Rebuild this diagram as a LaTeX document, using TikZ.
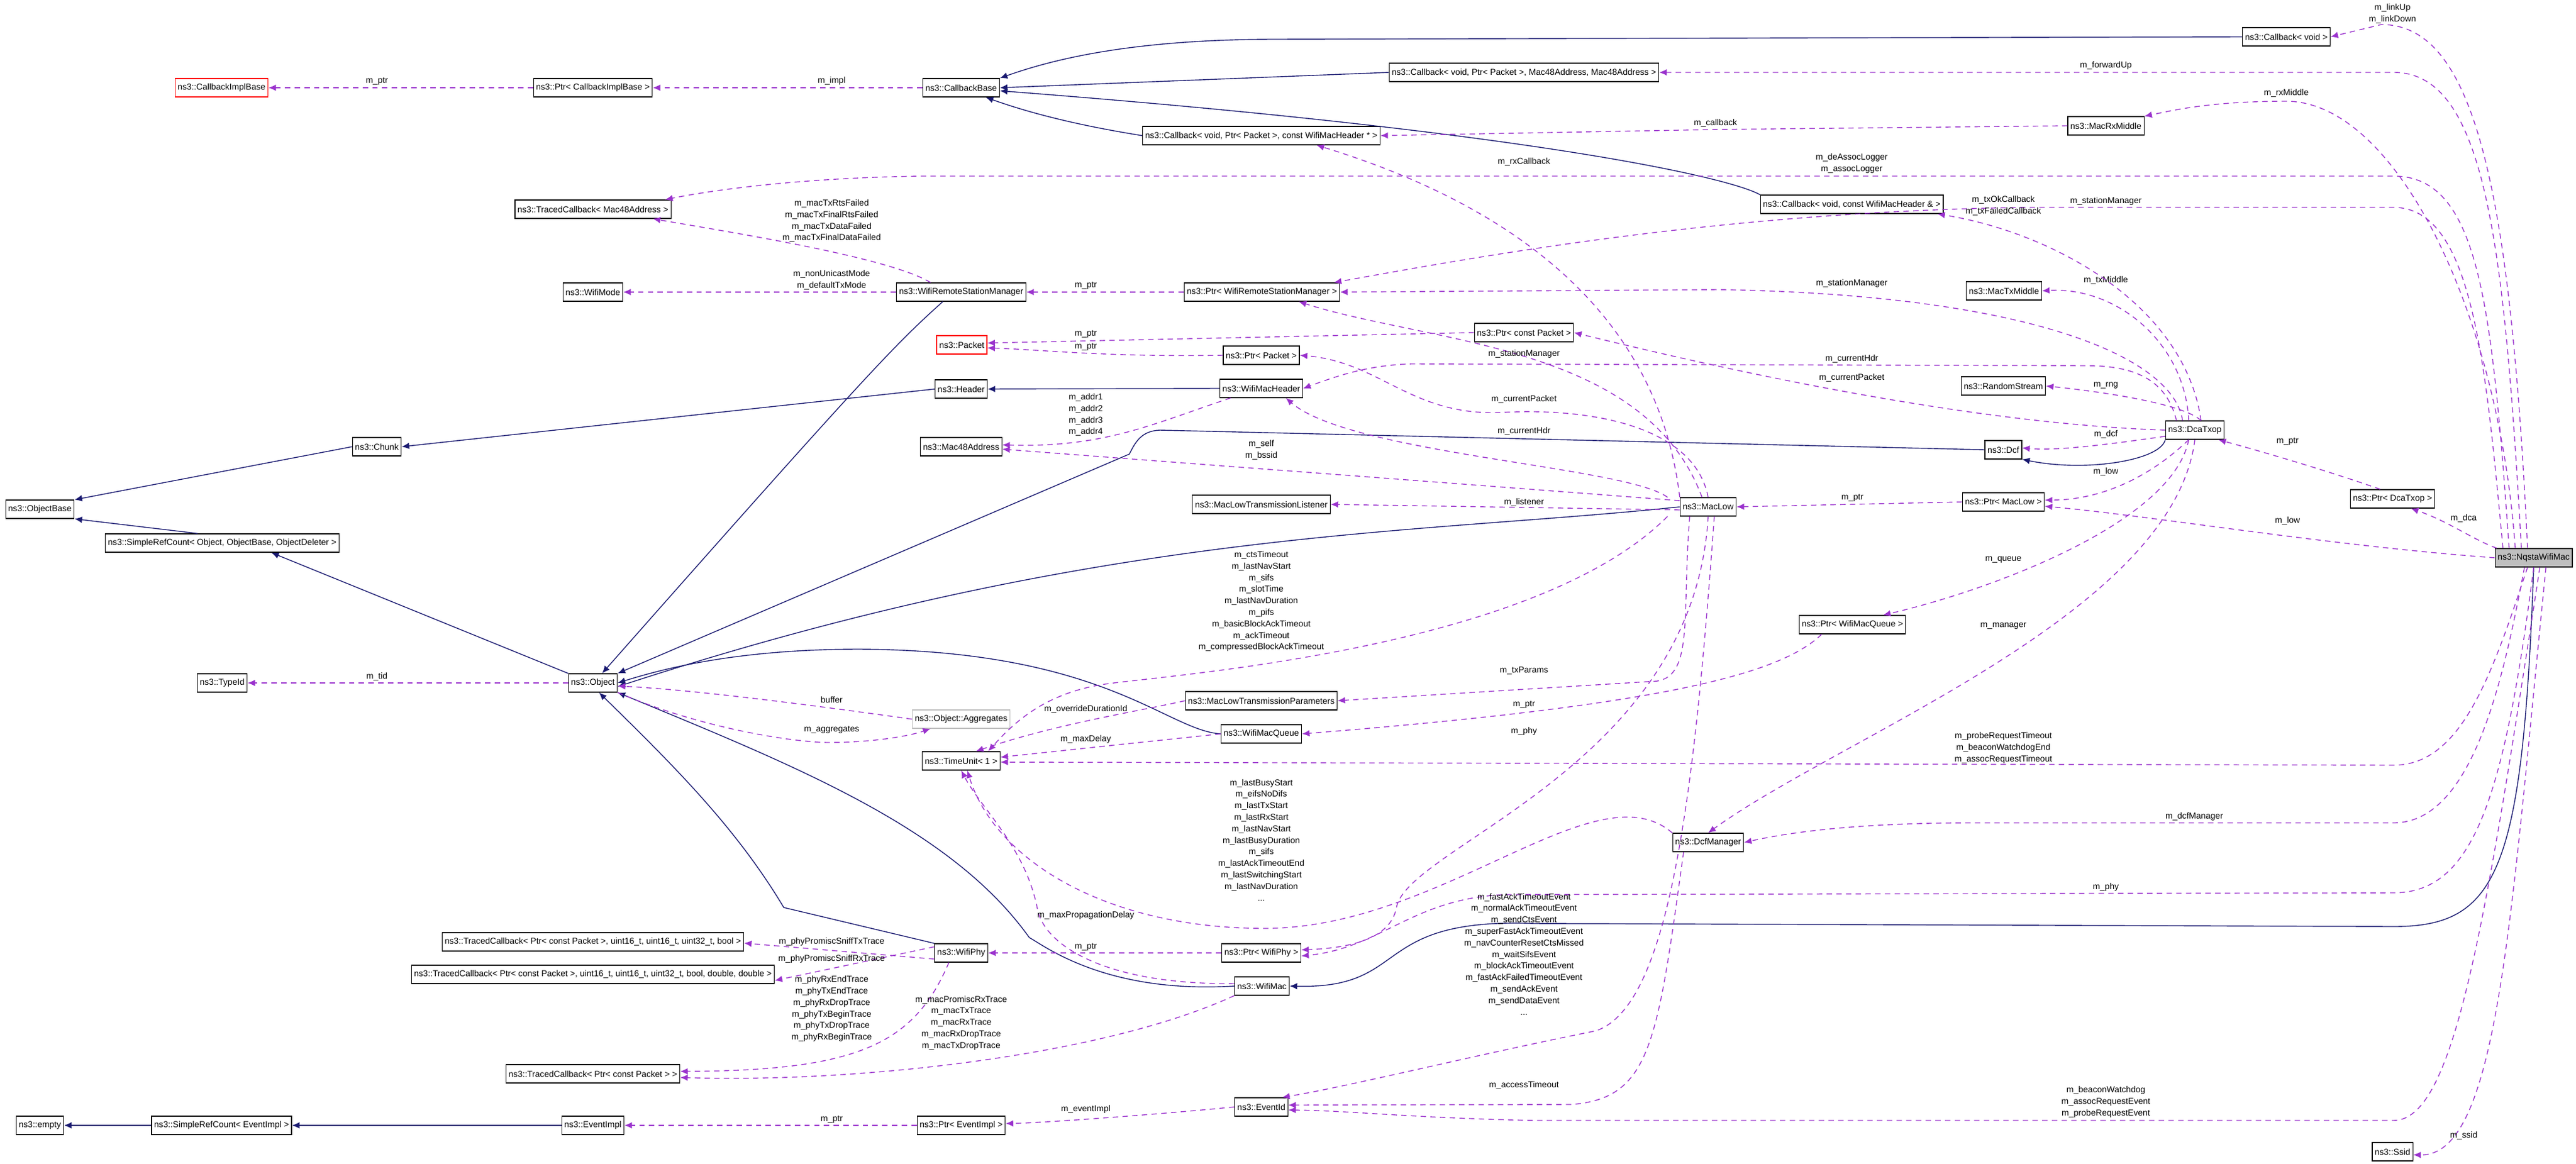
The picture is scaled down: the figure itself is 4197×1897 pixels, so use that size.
\documentclass[tikz,border=0pt]{standalone}
\usepackage{fontspec}
\setmainfont{Liberation Sans}
\usetikzlibrary{arrows.meta,calc}
\definecolor{inhblue}{RGB}{25,25,112}
\definecolor{usepurple}{RGB}{154,50,205}
\newcommand\boxfont{\fontsize{4}{5.4}\selectfont}
\newcommand\edgefont{\fontsize{4}{5.35}\selectfont}

\begin{document}
\begin{tikzpicture}[%
  x=0.01cm,y=-0.01cm,
  cls/.style={rectangle,draw,fill=white,font=\boxfont,minimum height=0.3cm,
    inner xsep=1.2pt,inner ysep=0pt,line width=0.35pt},
  redcls/.style={cls,draw=red},
  graycls/.style={cls,draw=gray!50},
  maincls/.style={cls,fill=gray!50},
  inh/.style={draw=inhblue,line width=0.4pt,
    -{Latex[length=3.5pt,width=3pt,fill=inhblue]}},
  use/.style={draw=usepurple,line width=0.4pt,dash pattern=on 2.5pt off 2pt,
    -{Latex[length=3.5pt,width=3pt,fill=usepurple]}},
  lbl/.style={font=\edgefont,align=center,inner sep=0pt}]
    \useasboundingbox (0,0) rectangle (4197,1897);
    % Classes
    \node[redcls] (cib) at (361,143) {ns3::CallbackImplBase};
    \node[cls] (pcib) at (966,143) {ns3::Ptr< CallbackImplBase >};
    \node[cls] (cbb) at (1566,143) {ns3::CallbackBase};
    \node[cls] (cbv) at (3725,60) {ns3::Callback< void >};
    \node[cls] (cbfw) at (2483,118) {ns3::Callback< void, Ptr< Packet >, Mac48Address, Mac48Address >};
    \node[cls] (cbrx) at (2055,221) {ns3::Callback< void, Ptr< Packet >, const WifiMacHeader * >};
    \node[cls] (rxm) at (3431,205) {ns3::MacRxMiddle};
    \node[cls] (tcm) at (966,341) {ns3::TracedCallback< Mac48Address >};
    \node[cls] (cbtx) at (3017,333) {ns3::Callback< void, const WifiMacHeader \& >};
    \node[cls] (wmode) at (966,476) {ns3::WifiMode};
    \node[cls] (wrsm) at (1566,476) {ns3::WifiRemoteStationManager};
    \node[cls] (pwrsm) at (2056,476) {ns3::Ptr< WifiRemoteStationManager >};
    \node[cls] (txm) at (3265,474) {ns3::MacTxMiddle};
    \node[cls] (pcp) at (2483,542) {ns3::Ptr< const Packet >};
    \node[redcls] (pkt) at (1567,562) {ns3::Packet};
    \node[cls] (ppkt) at (2055,579) {ns3::Ptr< Packet >};
    \node[cls] (rng) at (3264,629) {ns3::RandomStream};
    \node[cls] (hdr) at (1566,634) {ns3::Header};
    \node[cls] (wmh) at (2055,633) {ns3::WifiMacHeader};
    \node[cls] (chunk) at (614,728) {ns3::Chunk};
    \node[cls] (mac48) at (1566,728) {ns3::Mac48Address};
    \node[cls] (dcatxop) at (3576,701) {ns3::DcaTxop};
    \node[cls] (dcf) at (3264,733) {ns3::Dcf};
    \node[cls] (pmaclow) at (3264,818) {ns3::Ptr< MacLow >};
    \node[cls] (pdca) at (3898,813) {ns3::Ptr< DcaTxop >};
    \node[cls] (listener) at (2055,822) {ns3::MacLowTransmissionListener};
    \node[cls] (maclow) at (2783,826) {ns3::MacLow};
    \node[cls] (obase) at (65,830) {ns3::ObjectBase};
    \node[cls] (src) at (362,885) {ns3::SimpleRefCount< Object, ObjectBase, ObjectDeleter >};
    \node[maincls] (nqsta) at (4128,909) {ns3::NqstaWifiMac};
    \node[cls] (pqueue) at (3018,1018) {ns3::Ptr< WifiMacQueue >};
    \node[cls] (tid) at (362,1113) {ns3::TypeId};
    \node[cls] (obj) at (966,1113) {ns3::Object};
    \node[cls] (params) at (2055,1142) {ns3::MacLowTransmissionParameters};
    \node[graycls] (aggr) at (1566,1172) {ns3::Object::Aggregates};
    \node[cls] (queue) at (2055,1196) {ns3::WifiMacQueue};
    \node[cls] (tunit) at (1566,1240) {ns3::TimeUnit< 1 >};
    \node[cls] (dcfm) at (2783,1373) {ns3::DcfManager};
    \node[cls] (tcb) at (966,1535) {ns3::TracedCallback< Ptr< const Packet >, uint16\_t, uint16\_t, uint32\_t, bool >};
    \node[cls] (tcd) at (966,1588) {ns3::TracedCallback< Ptr< const Packet >, uint16\_t, uint16\_t, uint32\_t, bool, double, double >};
    \node[cls] (wphy) at (1566,1553) {ns3::WifiPhy};
    \node[cls] (pwphy) at (2055,1553) {ns3::Ptr< WifiPhy >};
    \node[cls] (wmac) at (2056,1607) {ns3::WifiMac};
    \node[cls] (tcp) at (966,1750) {ns3::TracedCallback< Ptr< const Packet > >};
    \node[cls] (eid) at (2055,1804) {ns3::EventId};
    \node[cls] (empty) at (65,1834) {ns3::empty};
    \node[cls] (sre) at (361,1834) {ns3::SimpleRefCount< EventImpl >};
    \node[cls] (eimpl) at (966,1834) {ns3::EventImpl};
    \node[cls] (peimpl) at (1566,1834) {ns3::Ptr< EventImpl >};
    \node[cls] (ssid) at (3898,1877) {ns3::Ssid};

    % Inheritance
    \draw[inh] (cbv.west) -- (2080,64) .. controls (1850,64) and (1720,95) .. (cbb.north east);
    \draw[inh] (cbfw.west) -- (cbb.east);
    \draw[inh] (cbtx.north west) .. controls (2820,290) and (2500,215) .. ([yshift=-0.5mm]cbb.east);
    \draw[inh] (cbrx.west) .. controls (1760,205) and (1680,185) .. ([xshift=4mm]cbb.south);
    \draw[inh] ([xshift=-3mm]wrsm.south) .. controls (1460,560) and (1420,600) .. ([xshift=1.5mm]obj.north);
    \draw[inh] (wmh.west) -- (hdr.east);
    \draw[inh] (hdr.west) -- (chunk.east);
    \draw[inh] (chunk.west) -- (obase.north east);
    \draw[inh] ([xshift=-4mm]src.north) -- (obase.south east);
    \draw[inh] (obj.north west) -- ([xshift=8mm]src.south);
    \draw[inh] (dcf.west) -- (1890,701) .. controls (1860,702) and (1850,720) .. (1840,740) -- (obj.north east);
    \draw[inh] (maclow.west) .. controls (2300,872) and (1800,860) .. ([yshift=-0.6mm]obj.east);
    \draw[inh] (queue.west) .. controls (1900,1190) and (1800,1060) .. (1400,1058) .. controls (1200,1058) and (1080,1090) .. (obj.east);
    \draw[inh] (wphy.north west) -- (1277,1479) .. controls (1200,1350) and (1100,1250) .. ([xshift=1mm]obj.south);
    \draw[inh] (wmac.west) .. controls (1800,1620) and (1700,1540) .. (1677,1528) .. controls (1550,1350) and (1300,1250) .. (obj.south east);
    \draw[inh] (dcatxop.south west) .. controls (3520,750) and (3400,770) .. (dcf.south east);
    \draw[inh] (nqsta.south) .. controls (4110,1420) and (4070,1510) .. (3900,1510) -- (2500,1505) .. controls (2230,1495) and (2300,1612) .. (wmac.east);
    \draw[inh] (sre.west) -- (empty.east);
    \draw[inh] (eimpl.west) -- (sre.east);

    % Members
    \draw[use] (pcib.west) -- (cib.east);
    \node[lbl] (l-ptr1) at (614,132) {m\_ptr};
    \draw[use] (cbb.west) -- (pcib.east);
    \node[lbl] (l-impl) at (1355,132) {m\_impl};
    \draw[use] ([xshift=-1mm]nqsta.north) .. controls (4090,300) and (4030,40) .. (3880,40) -- (cbv.east);
    \node[lbl] (l-link) at (3898,22) {m\_linkUp\\m\_linkDown};
    \draw[use] ([xshift=-2mm]nqsta.north) .. controls (4080,400) and (4050,118) .. (3900,118) -- (cbfw.east);
    \node[lbl] (l-fwd) at (3431,107) {m\_forwardUp};
    \draw[use] ([xshift=-3mm]nqsta.north) .. controls (4070,500) and (3900,165) .. (3725,165) .. controls (3600,165) and (3540,180) .. (rxm.north east);
    \node[lbl] (l-rxm) at (3725,152) {m\_rxMiddle};
    \draw[use] (rxm.west) -- (2800,211) -- (cbrx.east);
    \node[lbl] (l-cb) at (2795,201) {m\_callback};
    \draw[use] ([xshift=-4mm]nqsta.north) .. controls (4060,500) and (4040,287) .. (3900,287) -- (1500,287) .. controls (1300,290) and (1160,310) .. ([xshift=-1mm]tcm.north east);
    \node[lbl] (l-assoc) at (3017,266) {m\_deAssocLogger\\m\_assocLogger};
    \draw[use] (maclow.north west) .. controls (2700,500) and (2450,330) .. ([xshift=9mm]cbrx.south);
    \node[lbl] (l-rxcb) at (2483,264) {m\_rxCallback};
    \draw[use] ([xshift=-5mm]wrsm.north) .. controls (1450,420) and (1200,380) .. ([xshift=-3mm]tcm.south east);
    \node[lbl] (l-mactx) at (1355,360) {m\_macTxRtsFailed\\m\_macTxFinalRtsFailed\\m\_macTxDataFailed\\m\_macTxFinalDataFailed};
    \draw[use] (wrsm.west) -- (wmode.east);
    \node[lbl] (l-mode) at (1355,456) {m\_nonUnicastMode\\m\_defaultTxMode};
    \draw[use] (pwrsm.west) -- (wrsm.east);
    \node[lbl] (l-ptr2) at (1769,465) {m\_ptr};
    \draw[use] ([xshift=-5mm]nqsta.north) .. controls (4050,600) and (4030,338) .. (3900,338) -- (3300,338) .. controls (2800,345) and (2400,420) .. ([xshift=-1mm]pwrsm.north east);
    \node[lbl] (l-sm1) at (3431,328) {m\_stationManager};
    \draw[use] ([xshift=-2mm]dcatxop.north) .. controls (3540,580) and (3300,480) .. (2800,472) -- (pwrsm.east);
    \node[lbl] (l-sm2) at (3017,462) {m\_stationManager};
    \draw[use] ([xshift=-1mm]maclow.north) .. controls (2680,560) and (2330,560) .. ([xshift=6mm]pwrsm.south);
    \node[lbl] (l-sm3) at (2483,577) {m\_stationManager};
    \draw[use] (pcp.west) -- ([yshift=0.3mm]pkt.east);
    \node[lbl] (l-ptr3) at (1769,544) {m\_ptr};
    \draw[use] (ppkt.west) .. controls (1800,582) and (1700,570) .. ([yshift=-0.5mm]pkt.east);
    \node[lbl] (l-ptr4) at (1769,565) {m\_ptr};
    \draw[use] (dcatxop.west) .. controls (3200,690) and (2800,600) .. (pcp.east);
    \node[lbl] (l-cp1) at (3017,616) {m\_currentPacket};
    \draw[use] ([xshift=-3mm]dcatxop.north) .. controls (3530,620) and (3480,596) .. (3400,596) -- (2300,593) .. controls (2230,595) and (2180,612) .. (wmh.east);
    \node[lbl] (l-ch1) at (3017,585) {m\_currentHdr};
    \draw[use] ([xshift=-2mm]maclow.north west) .. controls (2650,760) and (2200,740) .. ([xshift=4mm]wmh.south);
    \node[lbl] (l-ch2) at (2483,703) {m\_currentHdr};
    \draw[use] (maclow.north) .. controls (2760,690) and (2580,665) .. (2450,672) .. controls (2300,680) and (2250,590) .. (ppkt.east);
    \node[lbl] (l-cp2) at (2483,651) {m\_currentPacket};
    \draw[use] ([xshift=-5mm]wmh.south) .. controls (1880,690) and (1800,730) .. ([yshift=0.3mm]mac48.east);
    \node[lbl] (l-addr) at (1769,676) {m\_addr1\\m\_addr2\\m\_addr3\\m\_addr4};
    \draw[use] ([yshift=1mm]maclow.west) .. controls (2400,790) and (2000,760) .. ([yshift=-0.4mm]mac48.east);
    \node[lbl] (l-self) at (2055,733) {m\_self\\m\_bssid};
    \draw[use] ([yshift=-0.5mm]maclow.west) -- (listener.east);
    \node[lbl] (l-lst) at (2483,819) {m\_listener};
    \draw[use] (pmaclow.west) -- (maclow.east);
    \node[lbl] (l-ptr5) at (3018,811) {m\_ptr};
    \draw[use] ([yshift=-1mm]dcatxop.west) .. controls (3430,725) and (3350,735) .. ([yshift=0.3mm]dcf.east);
    \node[lbl] (l-dcf) at (3431,708) {m\_dcf};
    \draw[use] ([xshift=-1mm]dcatxop.south) .. controls (3500,780) and (3420,815) .. ([yshift=0.3mm]pmaclow.east);
    \node[lbl] (l-low1) at (3431,769) {m\_low};
    \draw[use] ([xshift=-2mm]pdca.north) .. controls (3800,770) and (3700,740) .. ([xshift=-1mm]dcatxop.south east);
    \node[lbl] (l-ptr6) at (3727,719) {m\_ptr};
    \draw[use] ([xshift=-6mm]nqsta.north) .. controls (4030,880) and (3990,850) .. ([xshift=3mm]pdca.south);
    \node[lbl] (l-dca) at (4014,845) {m\_dca};
    \draw[use] (nqsta.west) .. controls (3800,890) and (3500,840) .. ([yshift=-0.7mm]pmaclow.east);
    \node[lbl] (l-low2) at (3727,849) {m\_low};
    \draw[use] ([xshift=-1mm]dcatxop.south) .. controls (3540,850) and (3250,960) .. ([xshift=5mm]pqueue.north);
    \node[lbl] (l-queue) at (3264,912) {m\_queue};
    \draw[use] (dcatxop.south) .. controls (3540,1000) and (3000,1200) .. (dcfm.north);
    \node[lbl] (l-mgr) at (3264,1020) {m\_manager};
    \draw[use] ([xshift=-2mm]maclow.south west) .. controls (2500,1060) and (1900,1100) .. (1800,1115) .. controls (1700,1130) and (1650,1180) .. ([xshift=-2mm]tunit.north east);
    \node[lbl] (l-mlt) at (2055,980) {m\_ctsTimeout\\m\_lastNavStart\\m\_sifs\\m\_slotTime\\m\_lastNavDuration\\m\_pifs\\m\_basicBlockAckTimeout\\m\_ackTimeout\\m\_compressedBlockAckTimeout};
    \draw[use] ([xshift=-3mm]maclow.south) .. controls (2740,1000) and (2760,1100) .. (2700,1110) -- (params.east);
    \node[lbl] (l-txp) at (2483,1093) {m\_txParams};
    \draw[use] ([xshift=-5mm]pqueue.south) .. controls (2900,1100) and (2700,1150) .. (queue.east);
    \node[lbl] (l-ptr7) at (2483,1148) {m\_ptr};
    \draw[use] (maclow.south) .. controls (2760,1250) and (2290,1380) .. (2275,1480) .. controls (2265,1530) and (2200,1545) .. ([yshift=0.5mm]pwphy.east);
    \node[lbl] (l-phy1) at (2483,1192) {m\_phy};
    \draw[use] ([xshift=-1mm]nqsta.south) .. controls (4060,1100) and (4010,1247) .. (3900,1247) -- ([yshift=-0.2mm]tunit.east);
    \node[lbl] (l-probe) at (3264,1219) {m\_probeRequestTimeout\\m\_beaconWatchdogEnd\\m\_assocRequestTimeout};
    \draw[use] (params.west) .. controls (1850,1160) and (1720,1180) .. ([xshift=-4mm]tunit.north east);
    \node[lbl] (l-ovr) at (1769,1156) {m\_overrideDurationId};
    \draw[use] (queue.west) -- ([yshift=0.6mm]tunit.east);
    \node[lbl] (l-maxd) at (1769,1205) {m\_maxDelay};
    \draw[use] (dcfm.north west) .. controls (2600,1250) and (2350,1513) .. (2060,1513) .. controls (1800,1513) and (1620,1400) .. ([xshift=1mm]tunit.south);
    \node[lbl] (l-dcfm) at (2055,1369) {m\_lastBusyStart\\m\_eifsNoDifs\\m\_lastTxStart\\m\_lastRxStart\\m\_lastNavStart\\m\_lastBusyDuration\\m\_sifs\\m\_lastAckTimeoutEnd\\m\_lastSwitchingStart\\m\_lastNavDuration\\...};
    \draw[use] ([yshift=0.4mm]wmac.west) .. controls (1800,1605) and (1700,1540) .. (1690,1480) .. controls (1670,1380) and (1600,1320) .. (tunit.south);
    \node[lbl] (l-prop) at (1769,1492) {m\_maxPropagationDelay};
    \draw[use] (pwphy.west) -- (wphy.east);
    \node[lbl] (l-ptr8) at (1769,1543) {m\_ptr};
    \draw[use] (nqsta.south) .. controls (4080,1300) and (4030,1455) .. (3900,1455) -- (2450,1458) .. controls (2300,1465) and (2250,1545) .. ([yshift=-0.5mm]pwphy.east);
    \node[lbl] (l-phy2) at (3431,1446) {m\_phy};
    \draw[use] ([yshift=-1mm]wphy.west) -- ([yshift=-0.2mm]tcb.east);
    \node[lbl] (l-stx) at (1355,1535) {m\_phyPromiscSniffTxTrace};
    \draw[use] ([yshift=1mm]wphy.west) -- ([yshift=-1mm]tcd.east);
    \node[lbl] (l-srx) at (1355,1563) {m\_phyPromiscSniffRxTrace};
    \draw[use] ([xshift=-2mm]wphy.south) .. controls (1490,1700) and (1400,1745) .. ([yshift=0.4mm]tcp.east);
    \node[lbl] (l-phytr) at (1355,1644) {m\_phyRxEndTrace\\m\_phyTxEndTrace\\m\_phyRxDropTrace\\m\_phyTxBeginTrace\\m\_phyTxDropTrace\\m\_phyRxBeginTrace};
    \draw[use] (wmac.south west) .. controls (1800,1720) and (1400,1765) .. ([yshift=-0.6mm]tcp.east);
    \node[lbl] (l-mactr) at (1566,1667) {m\_macPromiscRxTrace\\m\_macTxTrace\\m\_macRxTrace\\m\_macRxDropTrace\\m\_macTxDropTrace};
    \draw[use] (peimpl.west) -- (eimpl.east);
    \node[lbl] (l-ptr9) at (1355,1824) {m\_ptr};
    \draw[use] (eid.west) .. controls (1900,1815) and (1700,1830) .. ([yshift=0.3mm]peimpl.east);
    \node[lbl] (l-eimpl) at (1769,1808) {m\_eventImpl};
    \draw[use] ([xshift=1mm]maclow.south) .. controls (2760,1300) and (2720,1640) .. (2600,1680) .. controls (2400,1720) and (2200,1770) .. ([xshift=-1mm]eid.north east);
    \node[lbl] (l-mlev) at (2483,1555) {m\_fastAckTimeoutEvent\\m\_normalAckTimeoutEvent\\m\_sendCtsEvent\\m\_superFastAckTimeoutEvent\\m\_navCounterResetCtsMissed\\m\_waitSifsEvent\\m\_blockAckTimeoutEvent\\m\_fastAckFailedTimeoutEvent\\m\_sendAckEvent\\m\_sendDataEvent\\...};
    \draw[use] ([xshift=-4mm]dcfm.south) .. controls (2700,1700) and (2690,1790) .. (2560,1800) -- ([yshift=0.3mm]eid.east);
    \node[lbl] (l-acc) at (2483,1769) {m\_accessTimeout};
    \draw[use] ([xshift=1mm]nqsta.south) .. controls (4050,1500) and (4000,1826) .. (3900,1826) -- (2500,1826) .. controls (2300,1822) and (2200,1810) .. ([yshift=-0.5mm]eid.east);
    \node[lbl] (l-beacon) at (3431,1796) {m\_beaconWatchdog\\m\_assocRequestEvent\\m\_probeRequestEvent};
    \draw[use] ([xshift=2mm]nqsta.south) .. controls (4090,1500) and (4070,1885) .. ([yshift=-0.5mm]ssid.east);
    \node[lbl] (l-ssid) at (4014,1851) {m\_ssid};
    \draw[use] ([xshift=-1.5mm]nqsta.south) .. controls (4080,1100) and (4030,1341) .. (3900,1341) -- (3200,1341) .. controls (3000,1342) and (2900,1360) .. (dcfm.east);
    \node[lbl] (l-dcfmgr) at (3575,1331) {m\_dcfManager};
    \draw[use] (obj.west) -- (tid.east);
    \node[lbl] (l-tid) at (614,1103) {m\_tid};
    \draw[use] (aggr.west) .. controls (1400,1160) and (1150,1125) .. ([yshift=-0.5mm]obj.east);
    \node[lbl] (l-buf) at (1355,1140) {buffer};
    \draw[use] (obj.south east) .. controls (1150,1190) and (1300,1210) .. (1350,1210) .. controls (1420,1210) and (1480,1200) .. ([xshift=-5mm]aggr.south);
    \node[lbl] (l-aggr) at (1355,1189) {m\_aggregates};
    \draw[use] ([xshift=-1mm]dcatxop.north) .. controls (3560,560) and (3450,467) .. (txm.east);
    \node[lbl] (l-txm) at (3431,457) {m\_txMiddle};
    \draw[use] ([xshift=1mm]dcatxop.north) .. controls (3560,660) and (3440,640) .. (rng.east);
    \node[lbl] (l-rng) at (3431,628) {m\_rng};
    \draw[use] ([xshift=1mm]dcatxop.north) .. controls (3560,500) and (3350,380) .. ([xshift=-1mm]cbtx.south east);
    \node[lbl] (l-txcb) at (3264,335) {m\_txOkCallback\\m\_txFailedCallback};
\end{tikzpicture}
\end{document}
